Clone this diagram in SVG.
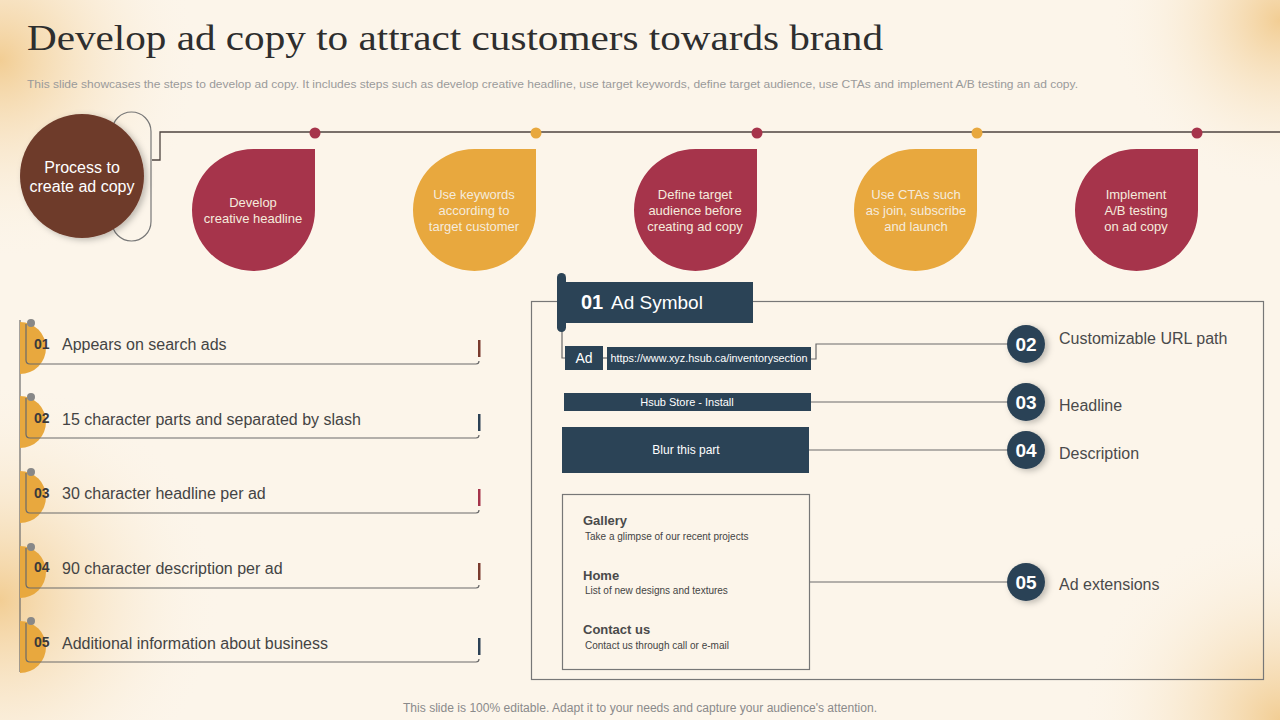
<svg xmlns="http://www.w3.org/2000/svg" width="1280" height="720" viewBox="0 0 1280 720">
<defs>
<radialGradient id="gTL" cx="0" cy="60" r="200" gradientUnits="userSpaceOnUse">
<stop offset="0" stop-color="#F1C98A" stop-opacity="0.9"/><stop offset="1" stop-color="#FCF5EA" stop-opacity="0"/>
</radialGradient>
<radialGradient id="gBL" cx="0" cy="600" r="220" gradientUnits="userSpaceOnUse">
<stop offset="0" stop-color="#F1C98A" stop-opacity="0.9"/><stop offset="1" stop-color="#FCF5EA" stop-opacity="0"/>
</radialGradient>
<radialGradient id="gTR" cx="1280" cy="20" r="170" gradientUnits="userSpaceOnUse">
<stop offset="0" stop-color="#F1C98A" stop-opacity="0.9"/><stop offset="1" stop-color="#FCF5EA" stop-opacity="0"/>
</radialGradient>
<radialGradient id="gBR" cx="1280" cy="720" r="200" gradientUnits="userSpaceOnUse">
<stop offset="0" stop-color="#F1C98A" stop-opacity="0.9"/><stop offset="1" stop-color="#FCF5EA" stop-opacity="0"/>
</radialGradient>
<filter id="sh" x="-50%" y="-50%" width="200%" height="200%">
<feDropShadow dx="3" dy="2" stdDeviation="3" flood-color="#000" flood-opacity="0.25"/>
</filter>
</defs>
<style>
text{font-family:"Liberation Sans",Arial,sans-serif}
.drop{fill:#F5EBDD;font-size:13px;text-anchor:middle}
.num{font-weight:bold;font-size:14px;fill:#3A3A3A}
.item{font-size:16px;fill:#444}
.ln{stroke:#6A6A6A;stroke-width:1.2;fill:none}
.navy{fill:#2B4356}
.wt{fill:#fff;text-anchor:middle}
.lbl{font-size:16px;fill:#4A4A4A}
.cn{fill:#fff;font-weight:bold;font-size:19px;text-anchor:middle}
.ext{font-size:13px;font-weight:bold;fill:#4A4A4A}
.extd{font-size:10px;fill:#444}
</style>
<rect width="1280" height="720" fill="#FCF5EA"/>
<rect width="1280" height="720" fill="url(#gTL)"/>
<rect width="1280" height="720" fill="url(#gBL)"/>
<rect width="1280" height="720" fill="url(#gTR)"/>
<rect width="1280" height="720" fill="url(#gBR)"/>

<text x="27" y="50" font-size="36" fill="#2E2E2E" textLength="856" lengthAdjust="spacingAndGlyphs" style="font-family:'Liberation Serif',serif">Develop ad copy to attract customers towards brand</text>
<text x="27" y="88" font-size="11.5" fill="#9A9A9A" textLength="1051" lengthAdjust="spacingAndGlyphs">This slide showcases the steps to develop ad copy.  It includes steps such as develop creative headline, use target keywords, define target audience, use CTAs and implement A/B testing an ad copy.</text>

<g id="connectors">
<path d="M152 160 H160 V132 H1280" fill="none" stroke="#4E4440" stroke-width="1.3"/>
<path class="ln" d="M562 331 V358 H565"/>
<path class="ln" d="M603 358 H607"/>
<path class="ln" d="M811 359 H816 V344 H1008"/>
<path class="ln" d="M811 402 H1008"/>
<path class="ln" d="M809 450 H1008"/>
<path class="ln" d="M810 582 H1008"/>
<line x1="20" y1="320" x2="20" y2="672" stroke="#6A6A6A" stroke-width="1.2"/>
</g>

<g id="process">
<rect x="112" y="112" width="39" height="129" rx="19.5" fill="none" stroke="#777" stroke-width="1.2"/>
<circle cx="82" cy="176" r="62" fill="#6E3B2B" filter="url(#sh)"/>
<text x="82" y="173" class="wt" font-size="16" fill="#F5EBDD">Process to</text>
<text x="82" y="192" class="wt" font-size="16" fill="#F5EBDD">create ad copy</text>
</g>

<g id="dots">
<circle cx="315" cy="133" r="5.5" fill="#A6344B"/>
<circle cx="536" cy="133" r="5.5" fill="#E8A83E"/>
<circle cx="757" cy="133" r="5.5" fill="#A6344B"/>
<circle cx="977" cy="133" r="5.5" fill="#E8A83E"/>
<circle cx="1197" cy="133" r="5.5" fill="#A6344B"/>
</g>

<g id="step1">
<path d="M253.5 149 H315 V210 A61.5 61 0 1 1 253.5 149 Z" fill="#A6344B"/>
<text class="drop" x="253" y="207">Develop</text>
<text class="drop" x="253" y="223">creative  headline</text>
</g>
<g id="step2">
<path d="M474.5 149 H536 V210 A61.5 61 0 1 1 474.5 149 Z" fill="#E8A83E"/>
<text class="drop" x="474" y="199">Use keywords</text>
<text class="drop" x="474" y="215">according to</text>
<text class="drop" x="474" y="231">target customer</text>
</g>
<g id="step3">
<path d="M695.5 149 H757 V210 A61.5 61 0 1 1 695.5 149 Z" fill="#A6344B"/>
<text class="drop" x="695" y="199">Define target</text>
<text class="drop" x="695" y="215">audience before</text>
<text class="drop" x="695" y="231">creating ad copy</text>
</g>
<g id="step4">
<path d="M915.5 149 H977 V210 A61.5 61 0 1 1 915.5 149 Z" fill="#E8A83E"/>
<text class="drop" x="916" y="199">Use CTAs  such</text>
<text class="drop" x="916" y="215">as join, subscribe</text>
<text class="drop" x="916" y="231">and launch</text>
</g>
<g id="step5">
<path d="M1136.5 149 H1198 V210 A61.5 61 0 1 1 1136.5 149 Z" fill="#A6344B"/>
<text class="drop" x="1136" y="199">Implement</text>
<text class="drop" x="1136" y="215">A/B testing</text>
<text class="drop" x="1136" y="231">on ad copy</text>
</g>

<g id="item1">
<path d="M20 322 A26 26 0 0 1 20 374 Z" fill="#E8A83E"/>
<path class="ln" d="M26 324 V360 Q26 364 30 364 H476 Q479 364 479 361"/>
<circle cx="31" cy="323" r="4" fill="#888"/>
<rect x="478" y="340" width="2.5" height="17" fill="#7A3B2E"/>
<text class="num" x="34" y="349">01</text>
<text class="item" x="62" y="350">Appears on search ads</text>
</g>
<g id="item2">
<path d="M20 396 A26 26 0 0 1 20 448 Z" fill="#E8A83E"/>
<path class="ln" d="M26 398 V434 Q26 438 30 438 H476 Q479 438 479 435"/>
<circle cx="31" cy="397" r="4" fill="#888"/>
<rect x="478" y="414" width="2.5" height="17" fill="#2C4155"/>
<text class="num" x="34" y="423">02</text>
<text class="item" x="62" y="425">15 character parts and separated by slash</text>
</g>
<g id="item3">
<path d="M20 471 A26 26 0 0 1 20 523 Z" fill="#E8A83E"/>
<path class="ln" d="M26 473 V509 Q26 513 30 513 H476 Q479 513 479 510"/>
<circle cx="31" cy="472" r="4" fill="#888"/>
<rect x="478" y="489" width="2.5" height="17" fill="#A6344B"/>
<text class="num" x="34" y="498">03</text>
<text class="item" x="62" y="499">30 character headline per ad</text>
</g>
<g id="item4">
<path d="M20 546 A26 26 0 0 1 20 598 Z" fill="#E8A83E"/>
<path class="ln" d="M26 548 V584 Q26 588 30 588 H476 Q479 588 479 585"/>
<circle cx="31" cy="547" r="4" fill="#888"/>
<rect x="478" y="563" width="2.5" height="17" fill="#7A3B2E"/>
<text class="num" x="34" y="572">04</text>
<text class="item" x="62" y="574">90 character description per ad</text>
</g>
<g id="item5">
<path d="M20 621 A26 26 0 0 1 20 673 Z" fill="#E8A83E"/>
<path class="ln" d="M26 623 V658 Q26 662 30 662 H476 Q479 662 479 659"/>
<circle cx="31" cy="621" r="4" fill="#888"/>
<rect x="478" y="638" width="2.5" height="17" fill="#2C4155"/>
<text class="num" x="34" y="647">05</text>
<text class="item" x="62" y="649">Additional information  about business</text>
</g>

<g id="panel">
<rect x="531.5" y="301.5" width="732" height="378" fill="none" stroke="#777" stroke-width="1.2"/>
</g>

<g id="adsymbol">
<rect x="557" y="282" width="196" height="41" class="navy"/>
<rect x="557" y="273" width="9" height="59" rx="4.5" class="navy"/>
<text x="581" y="309" fill="#fff" font-weight="bold" font-size="20">01</text>
<text x="611" y="309" fill="#fff" font-size="19">Ad Symbol</text>
</g>
<g id="adbox">
<rect x="565" y="346" width="38" height="24" class="navy"/>
<text x="584" y="363" class="wt" font-size="14">Ad</text>
</g>
<g id="urlbox">
<rect x="607" y="347" width="204" height="23" class="navy"/>
<text x="709" y="362" class="wt" font-size="11" textLength="197" lengthAdjust="spacingAndGlyphs">https://www.xyz.hsub.ca/inventorysection</text>
</g>
<g id="headlinebox">
<rect x="564" y="393" width="247" height="18" class="navy"/>
<text x="687" y="406" class="wt" font-size="11">Hsub Store - Install</text>
</g>
<g id="descbox">
<rect x="562" y="427" width="247" height="46" class="navy"/>
<text x="686" y="454" class="wt" font-size="12">Blur this part</text>
</g>
<g id="extbox">
<rect x="562.5" y="494.5" width="247" height="175" fill="none" stroke="#777" stroke-width="1.2"/>
<text class="ext" x="583" y="525">Gallery</text>
<text class="extd" x="585" y="540">Take  a  glimpse  of our recent projects</text>
<text class="ext" x="583" y="580">Home</text>
<text class="extd" x="585" y="594">List of new designs and textures</text>
<text class="ext" x="583" y="634">Contact  us</text>
<text class="extd" x="585" y="649">Contact us through  call or e-mail</text>
</g>

<g id="c02">
<circle cx="1026" cy="344" r="19" class="navy" filter="url(#sh)"/>
<text class="cn" x="1026" y="351">02</text>
<text class="lbl" x="1059" y="344">Customizable  URL path</text>
</g>
<g id="c03">
<circle cx="1026" cy="402" r="19" class="navy" filter="url(#sh)"/>
<text class="cn" x="1026" y="409">03</text>
<text class="lbl" x="1059" y="411">Headline</text>
</g>
<g id="c04">
<circle cx="1026" cy="450" r="19" class="navy" filter="url(#sh)"/>
<text class="cn" x="1026" y="457">04</text>
<text class="lbl" x="1059" y="459">Description</text>
</g>
<g id="c05">
<circle cx="1026" cy="582" r="19" class="navy" filter="url(#sh)"/>
<text class="cn" x="1026" y="589">05</text>
<text class="lbl" x="1059" y="590">Ad extensions</text>
</g>

<text x="640" y="712" font-size="12" fill="#8A8A8A" text-anchor="middle" textLength="474" lengthAdjust="spacingAndGlyphs">This slide is 100% editable. Adapt it to your needs and capture your audience's attention.</text>
</svg>
